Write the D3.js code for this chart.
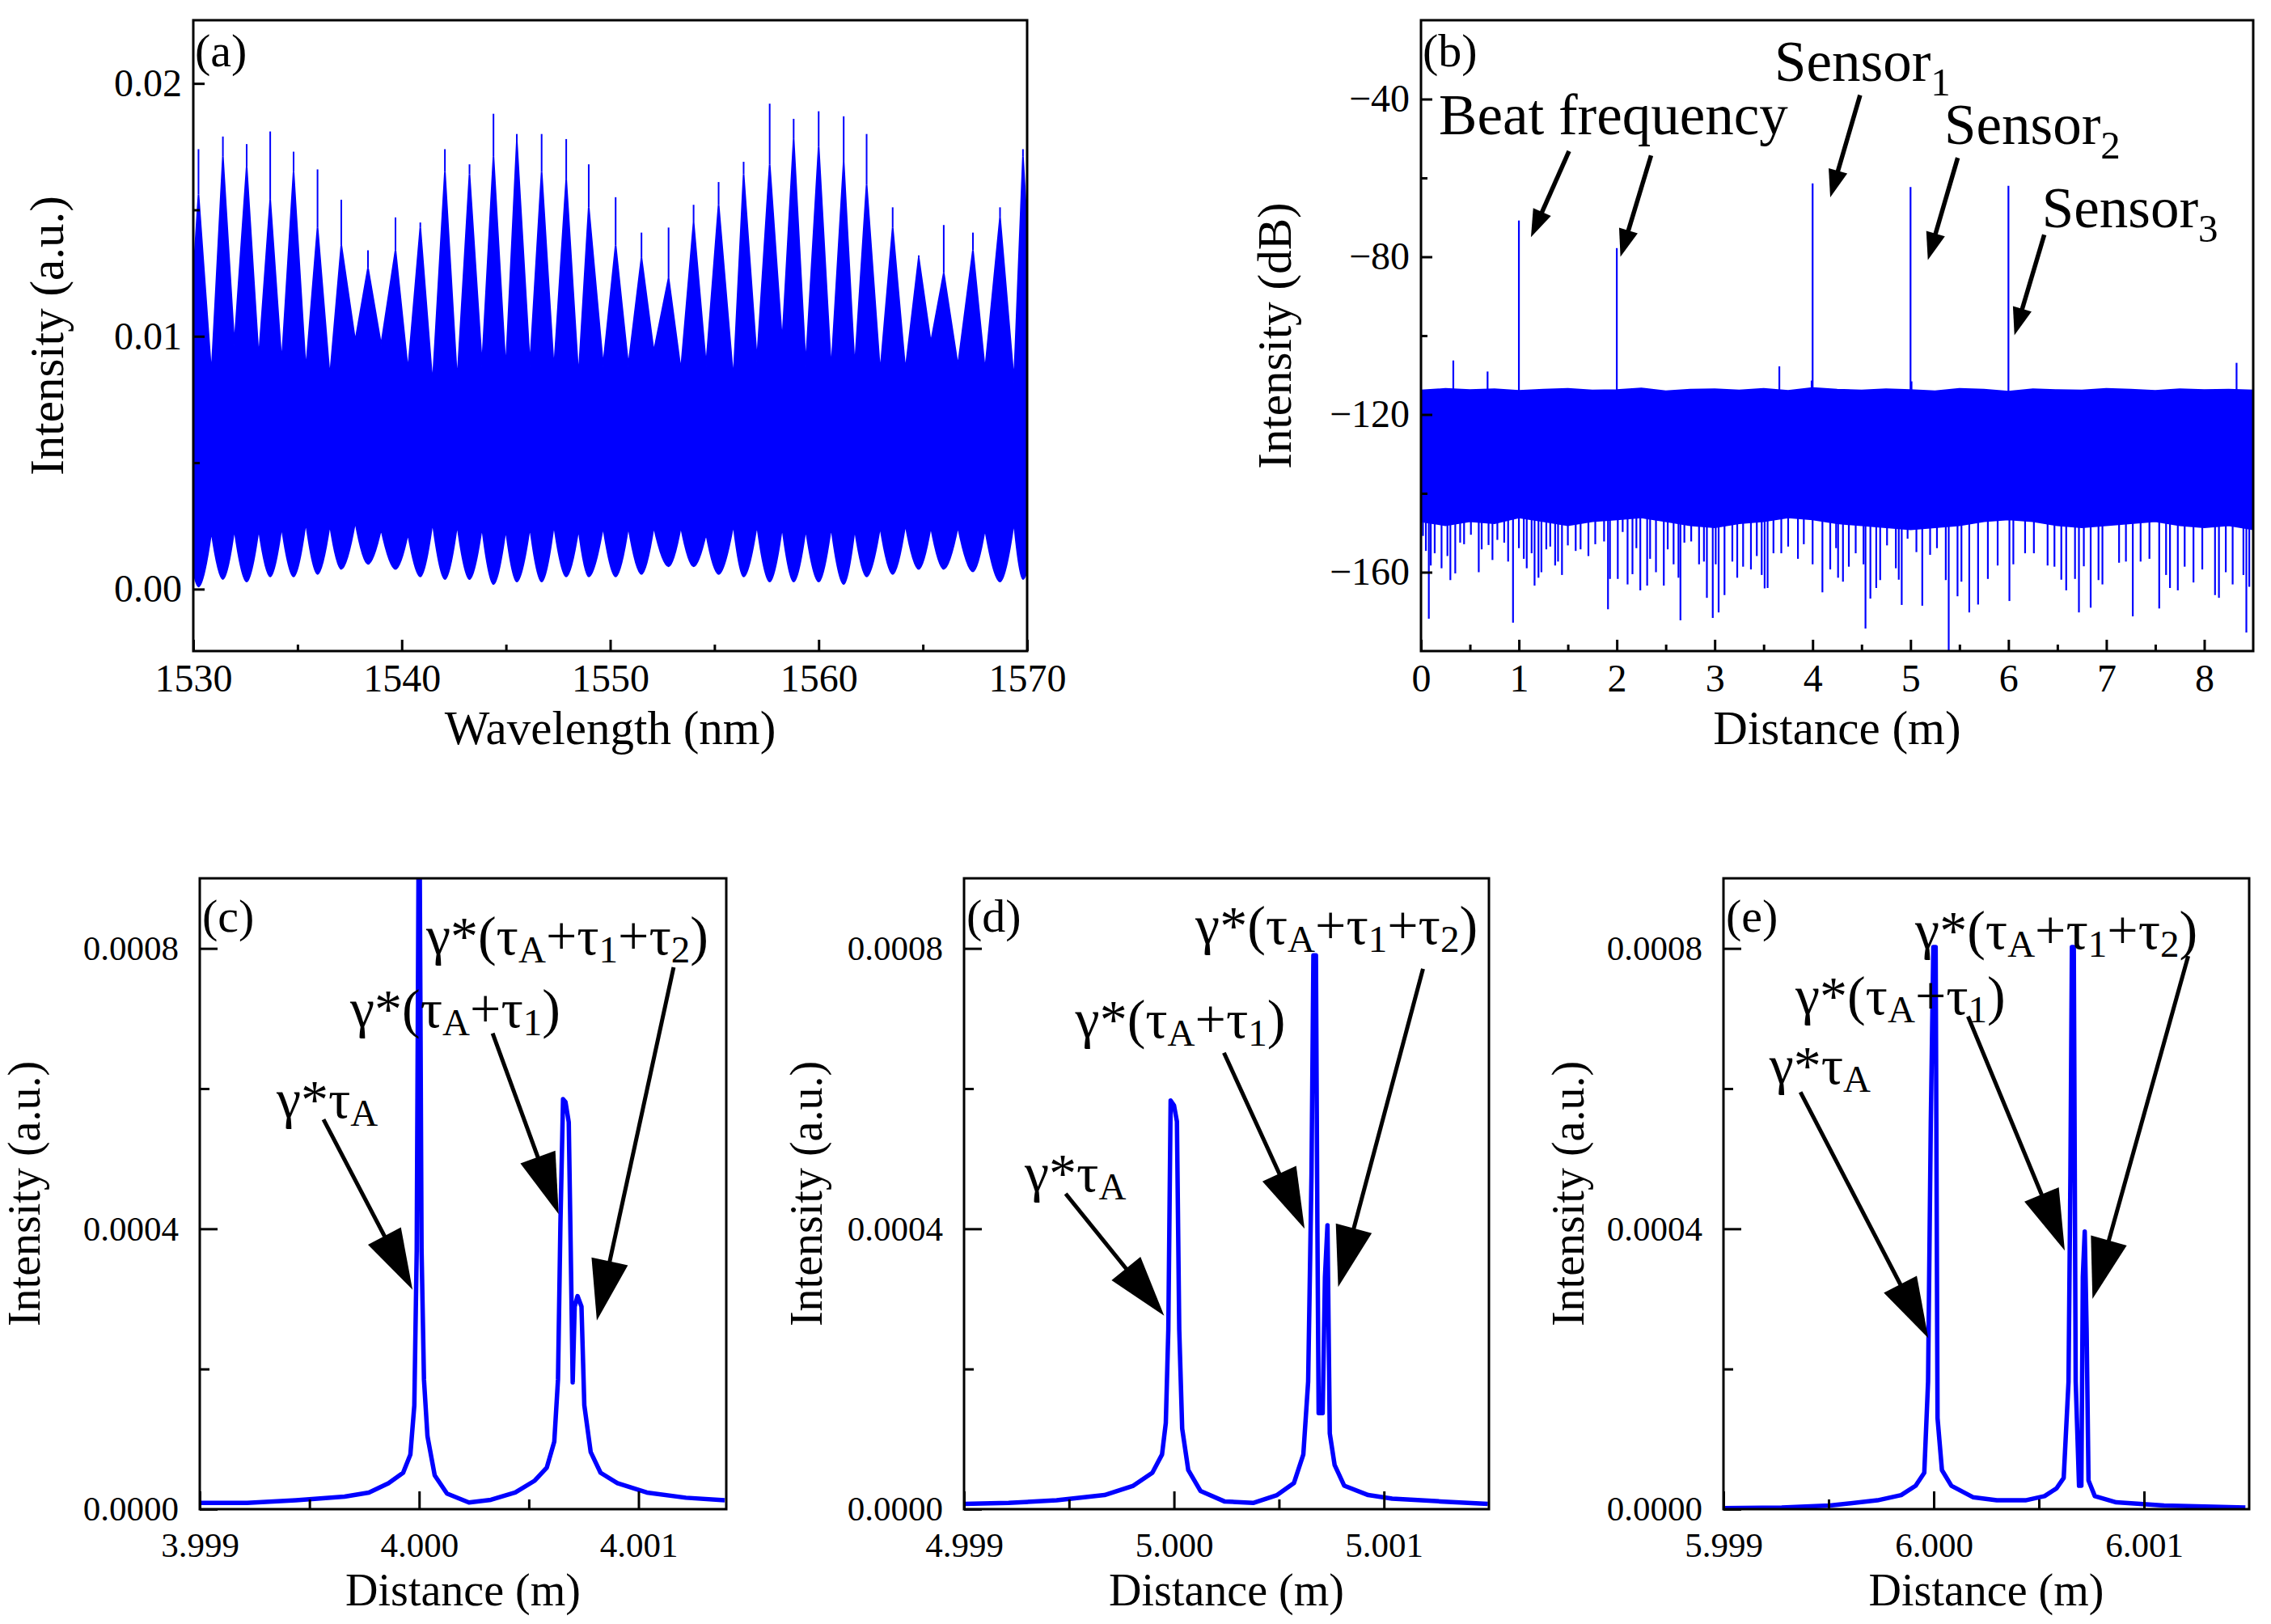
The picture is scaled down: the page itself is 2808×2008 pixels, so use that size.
<!DOCTYPE html>
<html>
<head>
<meta charset="utf-8">
<title>Spectrum and distance domain</title>
<script src="https://d3js.org/d3.v7.min.js"></script>
<style>
  body { margin: 0; background: #fff; }
</style>
</head>
<body>
<svg width="2808" height="2008"></svg>
<script>
// ---------- (a) interference spectrum ----------
var fringeWl = [1530.25,1531.42,1532.56,1533.69,1534.81,1535.96,1537.10,1538.38,1539.70,1540.89,1542.07,1543.25,1544.40,1545.52,1546.71,1547.89,1548.97,
                1550.26,1551.50,1552.80,1554.00,1555.20,1556.40,1557.65,1558.80,1560.00,1561.20,1562.30,1563.55,1564.80,1566.00,1567.40,1568.70,1569.80];
var fringeTop = [0.0156,0.0171,0.0167,0.0154,0.0165,0.0143,0.0136,0.0127,0.0134,0.0143,0.0165,0.0164,0.0171,0.0177,0.0165,0.0162,0.0151,
                 0.0136,0.0131,0.0123,0.0145,0.0152,0.0164,0.0168,0.0178,0.0175,0.0169,0.0160,0.0143,0.0131,0.0125,0.0134,0.0147,0.0171];
var fringeSpike = [0.0174,0.0179,0.0176,0.0181,0.0173,0.0166,0.0154,0.0134,0.0147,0.0145,0.0174,0.0168,0.0188,0.0180,0.0180,0.0178,0.0168,
                   0.0155,0.0141,0.0143,0.0152,0.0161,0.0169,0.0192,0.0186,0.0189,0.0187,0.0180,0.0151,0.0132,0.0144,0.0141,0.0151,0.0174];
var fringeLow = [0.0001,0.0004,0.0003,0.0005,0.0005,0.0006,0.0008,0.0010,0.0008,0.0005,0.0004,0.0004,0.0002,0.0003,0.0003,0.0005,0.0005,
                 0.0005,0.0006,0.0009,0.0009,0.0006,0.0005,0.0003,0.0003,0.0003,0.0002,0.0005,0.0006,0.0008,0.0008,0.0007,0.0003,0.0004];
var gapWl = [1529.70,1530.87,1531.97,1533.14,1534.24,1535.40,1536.55,1537.77,1539.01,1540.30,1541.48,1542.66,1543.85,1544.99,1546.15,1547.30,1548.48,1549.66,
             1550.87,1552.09,1553.39,1554.60,1555.91,1557.04,1558.25,1559.38,1560.60,1561.73,1562.95,1564.16,1565.38,1566.68,1567.98,1569.37,1570.40];
var gapTop = [0.0085,0.00846,0.00965,0.0091,0.00892,0.00864,0.00836,0.0098,0.00965,0.00864,0.00809,0.00818,0.00882,0.00864,0.00882,0.00864,0.00836,0.00882,
              0.00882,0.00938,0.00864,0.00882,0.00827,0.00901,0.00974,0.00882,0.00864,0.00873,0.00855,0.00864,0.00974,0.00882,0.00864,0.00818,0.0086];
var gapLow = [0.0024,0.00230,0.00239,0.00239,0.00248,0.00267,0.00257,0.00267,0.00239,0.00221,0.00267,0.00257,0.00248,0.00239,0.00248,0.00257,0.00239,0.00248,
              0.00248,0.00248,0.00248,0.00221,0.00257,0.00257,0.00248,0.00239,0.00248,0.00239,0.00248,0.00257,0.00248,0.00248,0.00239,0.00267,0.0025];

// ---------- (b) distance domain (dB) ----------
var floorDist = [0,0.25,0.5,0.75,1,1.25,1.5,1.75,2,2.25,2.5,2.75,3,3.25,3.5,3.75,4,4.25,4.5,4.75,5,5.25,5.5,5.75,6,6.25,6.5,6.75,7,7.25,7.5,7.75,8,8.25,8.5];
var floorTop = [-114.0,-113.6,-113.9,-113.7,-114.1,-113.8,-113.6,-114.0,-113.9,-113.5,-114.2,-113.8,-113.7,-114.0,-113.6,-114.1,-113.4,-113.8,
                -114.0,-113.7,-113.9,-114.2,-113.6,-113.8,-114.3,-113.7,-113.9,-114.0,-113.6,-113.8,-114.1,-113.7,-113.9,-113.8,-114.0];
var floorLow = [-147,-148,-147,-147.5,-146,-147,-148,-147,-146.5,-146,-147,-148,-148.5,-147.5,-147,-146,-146.5,-147.5,
                -148,-148.5,-149,-148.5,-148,-147,-146.5,-147,-148,-148.5,-148,-147.5,-147,-148,-148.5,-148,-149];
var peakDist = [0.33,0.68,1.00,2.00,3.66,3.99,4.00,5.00,5.01,6.00,8.33];
var peakDb = [-106.3,-109.1,-70.8,-77.8,-107.8,-111.4,-61.4,-62.3,-111.6,-62.0,-106.9];
var dipDist = [0.02,0.05,0.08,0.10,0.14,0.21,0.27,0.30,0.35,0.40,0.44,0.51,0.59,0.62,0.69,0.73,0.78,0.85,0.89,0.94,
               1.00,1.05,1.08,1.13,1.16,1.20,1.23,1.28,1.32,1.37,1.40,1.44,1.50,1.58,1.63,1.71,1.78,1.87,1.91,1.93,
               2.01,2.06,2.11,2.16,2.20,2.24,2.31,2.34,2.40,2.48,2.52,2.58,2.63,2.65,2.69,2.76,2.84,2.89,2.92,2.98,
               3.01,3.04,3.10,3.18,3.23,3.29,3.37,3.43,3.48,3.51,3.54,3.60,3.68,3.75,3.85,3.91,4.00,4.10,4.18,4.24,
               4.26,4.31,4.37,4.44,4.52,4.54,4.59,4.65,4.69,4.76,4.85,4.88,4.91,4.97,5.06,5.12,5.20,5.27,5.36,5.39,
               5.48,5.52,5.60,5.69,5.79,5.89,6.01,6.05,6.17,6.26,6.40,6.47,6.54,6.59,6.68,6.72,6.77,6.84,6.92,6.96,
               7.13,7.20,7.27,7.35,7.44,7.54,7.61,7.65,7.73,7.80,7.89,7.98,8.11,8.15,8.22,8.29,8.40,8.43,8.46];
var dipDb = [-150.8,-154.6,-171.8,-158.3,-155.2,-159.0,-155.9,-162.0,-160.3,-152.5,-152.9,-150.5,-160.0,-154.2,-153.1,-156.9,-151.8,-152.5,-157.3,-172.8,
             -153.9,-156.6,-159.0,-155.2,-163.4,-161.4,-160.0,-154.2,-153.5,-158.3,-157.3,-160.7,-153.2,-154.6,-154.2,-155.9,-152.9,-152.2,-169.4,-161.7,
             -161.7,-149.8,-163.1,-160.5,-153.9,-164.6,-163.4,-156.6,-160.0,-163.4,-154.2,-158.0,-161.4,-172.2,-152.5,-152.2,-158.0,-157.3,-166.5,-171.6,
             -158.0,-170.2,-165.8,-157.3,-161.4,-158.6,-159.3,-155.9,-160.7,-164.1,-164.0,-155.2,-155.2,-153.5,-156.6,-152.9,-158.0,-165.1,-159.3,-153.9,
             -161.4,-162.4,-158.6,-155.2,-158.0,-174.3,-166.7,-164.0,-162.0,-153.2,-159.0,-161.9,-168.3,-151.5,-154.9,-168.5,-155.6,-153.9,-162.0,-181.0,
             -166.1,-162.4,-170.2,-168.2,-161.7,-158.3,-167.3,-158.0,-155.2,-155.2,-158.3,-158.6,-161.9,-164.6,-161.7,-170.2,-158.5,-169.0,-162.0,-163.1,
             -157.6,-157.3,-171.2,-157.3,-156.6,-169.2,-160.7,-164.0,-164.6,-158.6,-162.6,-159.3,-165.8,-166.5,-160.0,-163.1,-160.7,-175.3,-163.7];

// ---------- (c) (d) (e) zoom on the three sensors ----------
var cDist = [3.99900,3.999216,3.999438,3.999660,3.999771,3.999860,3.999927,3.999960,3.999978,3.999989,4.000000,4.000011,4.000022,4.000038,4.000071,
             4.000127,4.000227,4.000327,4.000438,4.000527,4.000582,4.000616,4.000633,4.000644,4.000656,4.000667,4.000682,4.000691,4.000700,4.000709,
             4.000722,4.000740,4.000753,4.000782,4.000827,4.000904,4.001038,4.001216,4.001393];
var cInt = [0.0000089,0.0000089,0.0000126,0.0000178,0.0000237,0.0000370,0.0000519,0.0000778,0.000148,0.000370,0.00110,0.000370,0.000185,0.000104,0.0000481,
            0.0000222,0.0000096,0.0000133,0.0000237,0.0000407,0.0000593,0.0000963,0.000185,0.000407,0.000585,0.000581,0.000552,0.000370,0.000181,0.000289,
            0.000304,0.000289,0.000148,0.0000815,0.0000519,0.0000370,0.0000237,0.0000163,0.0000126];
var dDist = [4.99900,4.999212,4.999441,4.999669,4.999806,4.999897,4.999943,4.999961,4.999973,4.999984,5.000000,5.000014,5.000025,5.000039,5.000068,
             5.000126,5.000240,5.000377,5.000491,5.000571,5.000616,5.000639,5.000655,5.000664,5.000676,5.000683,5.000689,5.000708,5.000719,5.000731,
             5.000742,5.000765,5.000811,5.000925,5.001039,5.001267,5.001495];
var dInt = [0.0000074,0.0000089,0.0000126,0.0000201,0.0000334,0.0000520,0.0000780,0.000123,0.000256,0.000583,0.000576,0.000553,0.000256,0.000115,0.0000557,
            0.0000260,0.0000111,0.0000089,0.0000201,0.0000371,0.0000780,0.000182,0.000479,0.000790,0.000790,0.000405,0.000137,0.000137,0.000331,0.000405,
            0.000108,0.0000631,0.0000334,0.0000201,0.0000149,0.0000111,0.0000074];
var eDist = [5.99900,5.999277,5.999505,5.999732,5.999845,5.999914,5.999955,5.999973,5.999986,5.999998,6.000009,6.000018,6.000039,6.000084,6.000186,
             6.000300,6.000436,6.000527,6.000584,6.000618,6.000641,6.000650,6.000657,6.000666,6.000675,6.000691,6.000702,6.000709,6.000718,6.000727,
             6.000736,6.000766,6.000868,6.001095,6.001482];
var eInt = [0.0000015,0.0000022,0.0000052,0.0000126,0.0000201,0.0000334,0.0000520,0.000182,0.000553,0.000802,0.000802,0.000130,0.0000557,0.0000334,0.0000171,
            0.0000126,0.0000126,0.0000186,0.0000297,0.0000446,0.000182,0.000479,0.000802,0.000802,0.000182,0.0000334,0.0000334,0.000331,0.000396,0.000256,
            0.0000409,0.0000186,0.0000097,0.0000052,0.0000022];

// tick values
var aXTicks = [1530,1540,1550,1560,1570], aXMinor = [1535,1545,1555,1565];
var aYTicks = [0,0.01,0.02], aYMinor = [0.005,0.015];
var bXTicks = [0,1,2,3,4,5,6,7,8], bXMinor = [0.5,1.5,2.5,3.5,4.5,5.5,6.5,7.5];
var bYTicks = [-160,-120,-80,-40], bYMinor = [-140,-100,-60];
var zYTicks = [0,0.0004,0.0008], zYMinor = [0.0002,0.0006];

// annotations (data units): text start and arrows [x1,y1,x2,y2]
var bLabels = [
  {parts:[["Beat frequency",0]], x:0.182, y:-49.0},
  {parts:[["Sensor",0],["1",1]], x:3.610, y:-35.4},
  {parts:[["Sensor",0],["2",1]], x:5.345, y:-51.4},
  {parts:[["Sensor",0],["3",1]], x:6.342, y:-72.6}
];
var bArrows = [[1.512,-53.2,1.123,-75.0],[2.350,-54.3,2.037,-80.0],[4.485,-39.0,4.180,-64.9],[5.482,-54.9,5.177,-80.8],[6.366,-74.4,6.061,-99.9]];

var gTauA = [["γ*τ",0],["A",1]];
var gTau1 = [["γ*(τ",0],["A",1],["+τ",0],["1",1],[")",0]];
var gTau2 = [["γ*(τ",0],["A",1],["+τ",0],["1",1],["+τ",0],["2",1],[")",0]];
var cLabels = [{parts:gTauA,x:3.999350,y:0.000558},{parts:gTau1,x:3.999686,y:0.000688},{parts:gTau2,x:4.000032,y:0.000792}];
var cArrows = [[3.999564,0.000556,3.999970,0.000313],[4.000335,0.000679,4.000636,0.000421],[4.001160,0.000773,4.000810,0.000269]];
var dLabels = [{parts:gTauA,x:4.999289,y:0.000454},{parts:gTau1,x:4.999530,y:0.000673},{parts:gTau2,x:5.000102,y:0.000807}];
var dArrows = [[4.999484,0.000450,4.999953,0.000276],[5.000238,0.000651,5.000622,0.000400],[5.001186,0.000771,5.000782,0.000317]];
var eLabels = [{parts:gTauA,x:5.999218,y:0.000607},{parts:gTau1,x:5.999342,y:0.000706},{parts:gTau2,x:5.999912,y:0.000800}];
var eArrows = [[5.999366,0.000595,5.999974,0.000244],[6.000163,0.000703,6.000623,0.000369],[6.001210,0.000789,6.000755,0.000300]];

var FONT = "'Liberation Serif','Times New Roman',serif";
var BLUE = "#0000ff";
var svg = d3.select("svg");
svg.append("rect").attr("width",2808).attr("height",2008).attr("fill","#fff");
var defs = svg.append("defs");

// scales + clip for one panel
function makePanel(id, box, xDom, yDom) {
  var p = {id:id, box:box};
  p.x = d3.scaleLinear().domain(xDom).range([box.l, box.r]);
  p.y = d3.scaleLinear().domain(yDom).range([box.b, box.t]);
  defs.append("clipPath").attr("id","clip-"+id).append("rect")
    .attr("x",box.l).attr("y",box.t).attr("width",box.r-box.l).attr("height",box.b-box.t);
  p.g = svg.append("g").attr("clip-path","url(#clip-"+id+")");
  return p;
}

// inward ticks, labels, frame
function drawAxes(p, o) {
  var b = p.box;
  function style(g, fs) {
    g.attr("font-family", FONT).attr("font-size", fs);
    g.select(".domain").remove();
    g.selectAll("line").attr("stroke","#000").attr("stroke-width",3);
    g.selectAll("text").attr("fill","#000");
  }
  svg.append("g").attr("transform","translate(0,"+b.b+")")
    .call(d3.axisBottom(p.x).tickValues(o.xTicks).tickFormat(o.xFmt).tickSizeInner(-o.major).tickSizeOuter(0).tickPadding(o.xPad))
    .call(style, o.tickFs);
  svg.append("g").attr("transform","translate(0,"+b.b+")")
    .call(d3.axisBottom(p.x).tickValues(o.xMinor).tickFormat("").tickSizeInner(-o.minor).tickSizeOuter(0))
    .call(style, o.tickFs);
  svg.append("g").attr("transform","translate("+b.l+",0)")
    .call(d3.axisLeft(p.y).tickValues(o.yTicks).tickFormat(o.yFmt).tickSizeInner(-o.major).tickSizeOuter(0).tickPadding(o.yPad))
    .call(style, o.tickFs);
  svg.append("g").attr("transform","translate("+b.l+",0)")
    .call(d3.axisLeft(p.y).tickValues(o.yMinor).tickFormat("").tickSizeInner(-o.minor).tickSizeOuter(0))
    .call(style, o.tickFs);

  svg.append("rect").attr("x",b.l).attr("y",b.t).attr("width",b.r-b.l).attr("height",b.b-b.t)
    .attr("fill","none").attr("stroke","#000").attr("stroke-width",3);

  svg.append("text").attr("x",(b.l+b.r)/2).attr("y",o.xTitleY).attr("text-anchor","middle")
    .attr("font-family",FONT).attr("font-size",o.titleFs).text(o.xTitle);
  svg.append("text").attr("transform","translate("+o.yTitleX+","+((b.t+b.b)/2)+") rotate(-90)")
    .attr("text-anchor","middle").attr("font-family",FONT).attr("font-size",o.titleFs).text(o.yTitle);
  svg.append("text").attr("x",o.tagX).attr("y",o.tagY)
    .attr("font-family",FONT).attr("font-size",58).text(o.tag);
}

function addLabel(p, lab, fs, subFs, subDy) {
  var t = svg.append("text").attr("x",p.x(lab.x)).attr("y",p.y(lab.y))
    .attr("font-family",FONT).attr("font-size",fs).attr("fill","#000");
  var down = false;
  lab.parts.forEach(function(s) {
    var ts = t.append("tspan").text(s[0]);
    if (s[1] && !down) { ts.attr("dy",subDy).attr("font-size",subFs); down = true; }
    else if (s[1]) { ts.attr("font-size",subFs); }
    else if (down) { ts.attr("dy",-subDy); down = false; }
  });
}

function addArrow(p, a, len, half, sw) {
  var x1 = p.x(a[0]), y1 = p.y(a[1]), x2 = p.x(a[2]), y2 = p.y(a[3]);
  var dx = x2-x1, dy = y2-y1, d = Math.sqrt(dx*dx+dy*dy);
  var ux = dx/d, uy = dy/d;
  var bx = x2-ux*len, by = y2-uy*len;
  svg.append("line").attr("x1",x1).attr("y1",y1).attr("x2",bx+ux*2).attr("y2",by+uy*2)
    .attr("stroke","#000").attr("stroke-width",sw);
  svg.append("polygon")
    .attr("points",[[x2,y2],[bx-uy*half,by+ux*half],[bx+uy*half,by-ux*half]].map(function(q){return q.join(",");}).join(" "))
    .attr("fill","#000");
}

// ===== panel (a) =====
var pa = makePanel("a", {l:239,r:1270,t:25,b:805}, [1530,1570], [-0.00245,0.0225]);
var aPts = [];
for (var i = 0; i < fringeWl.length; i++) {
  aPts.push({w:gapWl[i], hi:gapTop[i], lo:gapLow[i], gap:true});
  aPts.push({w:fringeWl[i], hi:fringeTop[i], lo:fringeLow[i], gap:false});
}
aPts.push({w:gapWl[fringeWl.length], hi:gapTop[fringeWl.length], lo:gapLow[fringeWl.length], gap:true});

// upper envelope: straight flanks; lower envelope: softly rounded bowls with cusps
var pth = d3.path();
aPts.forEach(function(d,k){
  if (k === 0) pth.moveTo(pa.x(d.w), pa.y(d.hi)); else pth.lineTo(pa.x(d.w), pa.y(d.hi));
});
var last = aPts[aPts.length-1];
pth.lineTo(pa.x(last.w), pa.y(last.lo));
for (var k = aPts.length-1; k > 0; k--) {
  var p0 = aPts[k], p1 = aPts[k-1];
  var x0 = pa.x(p0.w), y0 = pa.y(p0.lo), x1 = pa.x(p1.w), y1 = pa.y(p1.lo);
  var dxx = x1-x0;
  if (p0.gap) pth.bezierCurveTo(x0+0.3*dxx, y0+0.5*(y1-y0), x1-0.3*dxx, y1, x1, y1);
  else pth.bezierCurveTo(x0+0.3*dxx, y0, x1-0.3*dxx, y1+0.5*(y0-y1), x1, y1);
}
pth.closePath();
pa.g.append("path").attr("d",pth.toString()).attr("fill",BLUE).attr("stroke",BLUE).attr("stroke-width",2);
pa.g.selectAll(".spk").data(fringeWl).enter().append("line")
  .attr("x1",function(d){return pa.x(d);}).attr("x2",function(d){return pa.x(d);})
  .attr("y1",function(d,i){return pa.y(fringeTop[i]);}).attr("y2",function(d,i){return pa.y(fringeSpike[i]);})
  .attr("stroke",BLUE).attr("stroke-width",2);

drawAxes(pa, {xTicks:aXTicks, xMinor:aXMinor, yTicks:aYTicks, yMinor:aYMinor, xFmt:d3.format("d"), yFmt:d3.format(".2f"),
  major:14, minor:8, xPad:16, yPad:14, tickFs:48, titleFs:59, xTitle:"Wavelength (nm)", yTitle:"Intensity (a.u.)",
  xTitleY:920, yTitleX:78, tag:"(a)", tagX:241, tagY:82});

// ===== panel (b) =====
var pb = makePanel("b", {l:1757,r:2786,t:25,b:805}, [0,8.5], [-180,-20]);
var bArea = d3.area().x(function(d){return pb.x(d);})
  .y0(function(d,i){return pb.y(floorLow[i]);}).y1(function(d,i){return pb.y(floorTop[i]);});
pb.g.append("path").datum(floorDist).attr("d",bArea).attr("fill",BLUE).attr("stroke",BLUE).attr("stroke-width",3);
pb.g.selectAll(".dip").data(dipDist).enter().append("line")
  .attr("x1",function(d){return pb.x(d);}).attr("x2",function(d){return pb.x(d);})
  .attr("y1",pb.y(-140)).attr("y2",function(d,i){return pb.y(dipDb[i]);})
  .attr("stroke",BLUE).attr("stroke-width",2.2);
pb.g.selectAll(".pk").data(peakDist).enter().append("line")
  .attr("x1",function(d){return pb.x(d);}).attr("x2",function(d){return pb.x(d);})
  .attr("y1",pb.y(-118)).attr("y2",function(d,i){return pb.y(peakDb[i]);})
  .attr("stroke",BLUE).attr("stroke-width",2.2);

drawAxes(pb, {xTicks:bXTicks, xMinor:bXMinor, yTicks:bYTicks, yMinor:bYMinor, xFmt:d3.format("d"), yFmt:d3.format("d"),
  major:14, minor:8, xPad:16, yPad:14, tickFs:48, titleFs:59, xTitle:"Distance (m)", yTitle:"Intensity (dB)",
  xTitleY:920, yTitleX:1596, tag:"(b)", tagX:1759, tagY:82});
bLabels.forEach(function(l){ addLabel(pb, l, 71, 49, 18); });
bArrows.forEach(function(a){ addArrow(pb, a, 34, 12, 5.5); });

// ===== panels (c) (d) (e) =====
function sensorPanel(id, box, xDom, dist, inten, ticks, minor, labels, arrows, yTitleX, tag) {
  var p = makePanel(id, box, xDom, [0,0.0009]);
  var line = d3.line().x(function(d){return p.x(d);}).y(function(d,i){return p.y(inten[i]);});
  p.g.append("path").datum(dist).attr("d",line).attr("fill","none")
    .attr("stroke",BLUE).attr("stroke-width",5.5).attr("stroke-linejoin","round");
  drawAxes(p, {xTicks:ticks, xMinor:minor, yTicks:zYTicks, yMinor:zYMinor, xFmt:d3.format(".3f"), yFmt:d3.format(".4f"),
    major:22, minor:12, xPad:28, yPad:26, tickFs:43, titleFs:56, xTitle:"Distance (m)", yTitle:"Intensity (a.u.)",
    xTitleY:1985, yTitleX:yTitleX, tag:tag, tagX:box.l+3, tagY:1152});
  labels.forEach(function(l){ addLabel(p, l, 68, 47, 10); });
  arrows.forEach(function(a){ addArrow(p, a, 75, 23, 5); });
}
sensorPanel("c", {l:247,r:898,t:1086,b:1866}, [3.999,4.0014], cDist, cInt, [3.999,4.000,4.001], [3.9995,4.0005], cLabels, cArrows, 49, "(c)");
sensorPanel("d", {l:1192,r:1841,t:1086,b:1866}, [4.999,5.0015], dDist, dInt, [4.999,5.000,5.001], [4.9995,5.0005], dLabels, dArrows, 1016, "(d)");
sensorPanel("e", {l:2131,r:2781,t:1086,b:1866}, [5.999,6.0015], eDist, eInt, [5.999,6.000,6.001], [5.9995,6.0005], eLabels, eArrows, 1958, "(e)");
</script>
</body>
</html>
